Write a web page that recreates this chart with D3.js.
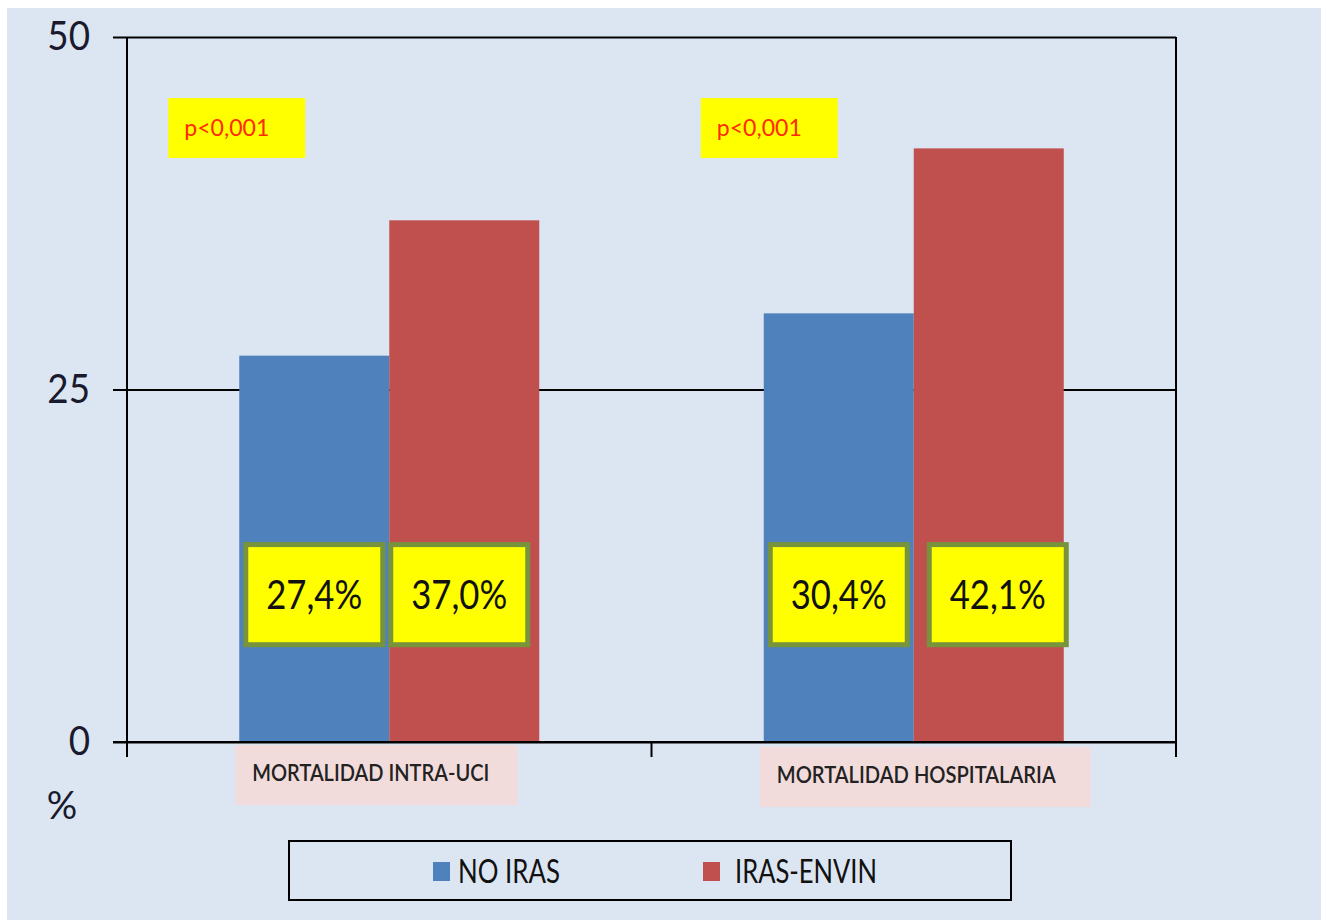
<!DOCTYPE html>
<html>
<head>
<meta charset="utf-8">
<script src="https://cdn.jsdelivr.net/npm/d3@7"></script>
<style>
  html, body { margin: 0; padding: 0; background: #ffffff; }
  svg { display: block; }
  text { font-family: "Liberation Sans Narrow", "Lato", "Liberation Sans", sans-serif; }
</style>
</head>
<body>
<svg id="chart" width="1321" height="923"></svg>
<script>
// Mortality by group (percent)
const categories = ["MORTALIDAD INTRA-UCI", "MORTALIDAD HOSPITALARIA"];
const seriesNames = ["NO IRAS", "IRAS-ENVIN"];
const noIras = [27.4, 30.4];
const irasEnvin = [37.0, 42.1];
const valueLabels = [["27,4%", "37,0%"], ["30,4%", "42,1%"]];
const pValues = ["p<0,001", "p<0,001"];
const yTicks = [0, 25, 50];

const colors = { "NO IRAS": "#4f81bd", "IRAS-ENVIN": "#c0504d" };

const svg = d3.select("#chart");
const W = 1321, H = 923;

// panel background
svg.append("rect").attr("x", 7).attr("y", 8).attr("width", W - 7).attr("height", H - 11)
  .attr("fill", "#dce6f2");

const plot = { left: 127, right: 1176, top: 37, bottom: 742 };

const y = d3.scaleLinear().domain([0, 50]).range([plot.bottom, plot.top]);
const x = d3.scaleBand().domain(categories).range([plot.left, plot.right])
  .paddingInner(0.428).paddingOuter(0.214);
const xs = d3.scaleBand().domain(seriesNames).range([0, x.bandwidth()]);

const rows = categories.map((c, i) => ({
  idx: i,
  cat: c,
  values: [
    { s: seriesNames[0], v: noIras[i], label: valueLabels[i][0], k: i * 2 },
    { s: seriesNames[1], v: irasEnvin[i], label: valueLabels[i][1], k: i * 2 + 1 }
  ]
}));

// horizontal gridlines
const grid = svg.append("g").attr("transform", `translate(${plot.left},0)`)
  .call(d3.axisLeft(y).tickValues(yTicks).tickSize(-(plot.right - plot.left)).tickFormat(""));
grid.select(".domain").remove();
grid.selectAll("line").attr("stroke", "#000").attr("stroke-width", 2);

// right frame
svg.append("line").attr("x1", plot.right).attr("x2", plot.right)
  .attr("y1", plot.top).attr("y2", plot.bottom + 15)
  .attr("stroke", "#000").attr("stroke-width", 2);

// bars
const groups = svg.append("g").selectAll("g").data(rows).join("g")
  .attr("transform", d => `translate(${x(d.cat)},0)`);

groups.selectAll("rect.bar").data(d => d.values).join("rect")
  .attr("class", "bar")
  .attr("x", d => xs(d.s))
  .attr("width", xs.bandwidth())
  .attr("y", d => y(d.v))
  .attr("height", d => y(0) - y(d.v))
  .attr("fill", d => colors[d.s]);

// value label boxes (slight horizontal nudges per box)
const boxNudge = [0, -5, 0, 9];
const boxTop = y(14), boxBot = y(6.9);
const boxW = 137;
const vl = groups.selectAll("g.vl").data(d => d.values).join("g").attr("class", "vl")
  .attr("transform", d => `translate(${xs(d.s) + xs.bandwidth() / 2 + boxNudge[d.k]},0)`);
vl.append("rect")
  .attr("x", -boxW / 2).attr("y", boxTop)
  .attr("width", boxW).attr("height", boxBot - boxTop)
  .attr("fill", "#ffff00").attr("stroke", "#77933c").attr("stroke-width", 5);
vl.append("text")
  .attr("x", 0).attr("y", (boxTop + boxBot) / 2 + 14)
  .attr("text-anchor", "middle")
  .attr("font-size", 40).attr("fill", "#111")
  .attr("textLength", 96).attr("lengthAdjust", "spacingAndGlyphs")
  .text(d => d.label);

// p-value boxes
const pg = svg.append("g").selectAll("g").data(rows).join("g")
  .attr("transform", (d, i) => `translate(${x(d.cat) + x.bandwidth() / 2 - (i === 0 ? 221 : 213)},${plot.top + 61})`);
pg.append("rect").attr("width", 137).attr("height", 60).attr("fill", "#ffff00");
pg.append("text").attr("x", 16).attr("y", 38)
  .attr("font-size", 23).attr("fill", "#ff2a00")
  .attr("textLength", 85).attr("lengthAdjust", "spacingAndGlyphs")
  .text((d, i) => pValues[i]);

// y axis
const yAxis = svg.append("g").attr("transform", `translate(${plot.left},0)`)
  .call(d3.axisLeft(y).tickValues(yTicks).tickSize(14).tickPadding(22));
yAxis.select(".domain").attr("stroke", "#000").attr("stroke-width", 2)
  .attr("d", `M0,${plot.top}V${plot.bottom + 15}`);
yAxis.selectAll("line").attr("stroke", "#000").attr("stroke-width", 2);
yAxis.selectAll("text")
  .attr("font-size", 40).attr("fill", "#1a1a2e")
  .attr("dy", "0.32em")
  .attr("transform", "scale(0.92,1)")
  .style("font-family", '"Liberation Sans Narrow", "Lato", sans-serif');
yAxis.selectAll(".tick text").attr("x", -37 / 0.92);

// x axis line and band separators
svg.append("line").attr("x1", plot.left - 14).attr("x2", plot.right)
  .attr("y1", plot.bottom).attr("y2", plot.bottom)
  .attr("stroke", "#000").attr("stroke-width", 2);
const step = x.step();
const seps = [plot.left, x(categories[0]) + x.bandwidth() + (step - x.bandwidth()) / 2, plot.right];
svg.append("g").selectAll("line").data(seps).join("line")
  .attr("x1", d => d).attr("x2", d => d)
  .attr("y1", plot.bottom).attr("y2", plot.bottom + 15)
  .attr("stroke", "#000").attr("stroke-width", 2);

// category labels
const catWidths = [237, 279];
const cl = svg.append("g").selectAll("g").data(categories).join("g")
  .attr("transform", (d, i) => `translate(${x(d) + x.bandwidth() / 2 - 154},${plot.bottom + 3 + i * 2})`);
cl.append("rect")
  .attr("width", (d, i) => catWidths[i] + (i === 0 ? 45 : 52))
  .attr("height", 60).attr("fill", "#f2dcdb");
cl.append("text").attr("x", 17).attr("y", 36)
  .attr("font-size", 23).attr("font-weight", "600").attr("fill", "#222")
  .attr("textLength", (d, i) => catWidths[i]).attr("lengthAdjust", "spacingAndGlyphs")
  .text(d => d);

// unit label
svg.append("text").attr("x", 62).attr("y", 819).attr("text-anchor", "middle")
  .attr("font-size", 38).attr("fill", "#1a1a2e").text("%");

// legend
const leg = svg.append("g").attr("transform", "translate(289,841)");
leg.append("rect").attr("width", 722).attr("height", 59)
  .attr("fill", "none").attr("stroke", "#000").attr("stroke-width", 2);
const legItems = [
  { s: seriesNames[0], sx: 144, tx: 169, tw: 102 },
  { s: seriesNames[1], sx: 414, tx: 446, tw: 142 }
];
legItems.forEach(it => {
  leg.append("rect").attr("x", it.sx).attr("y", 21).attr("width", 17).attr("height", 19)
    .attr("fill", colors[it.s]);
  leg.append("text").attr("x", it.tx).attr("y", 42)
    .attr("font-size", 33).attr("fill", "#111")
    .attr("textLength", it.tw).attr("lengthAdjust", "spacingAndGlyphs")
    .text(it.s);
});
</script>
</body>
</html>
